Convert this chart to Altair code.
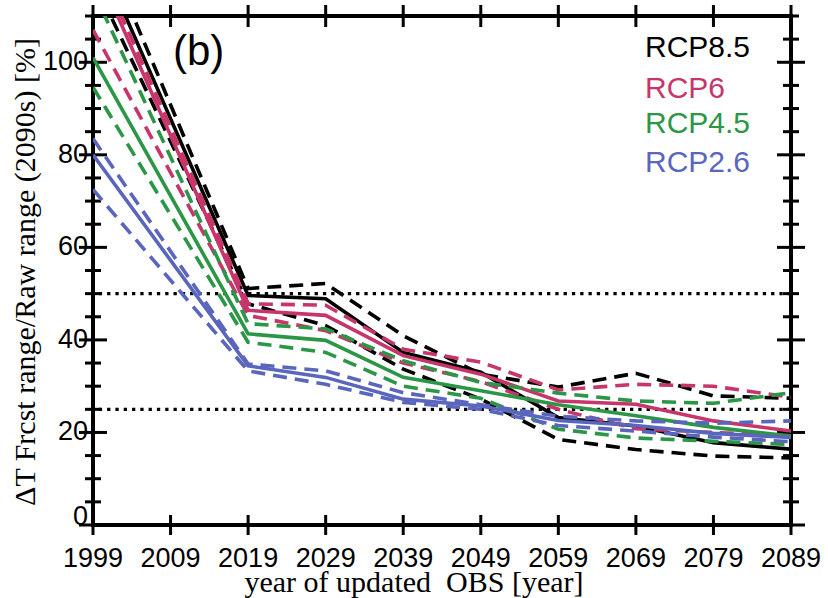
import altair as alt
import pandas as pd

years = [1999, 2019, 2029, 2039, 2049, 2059, 2069, 2079, 2089]

rcp85_mid = [126.0, 49.6, 48.9, 37.3, 33.0, 23.2, 21.4, 17.8, 16.4]
rcp85_lo = [118.0, 47.8, 43.1, 33.7, 27.2, 18.5, 16.3, 14.9, 14.5]
rcp85_hi = [130.5, 51.1, 52.2, 40.9, 32.6, 29.8, 32.8, 27.9, 27.4]

rcp6_mid = [122.0, 46.4, 45.3, 36.6, 32.6, 26.8, 26.1, 22.5, 20.3]
rcp6_lo = [107.0, 45.3, 42.0, 35.0, 31.0, 25.0, 20.8, 20.0, 19.3]
rcp6_hi = [124.0, 47.8, 47.5, 38.0, 35.2, 29.2, 30.4, 30.0, 27.6]

rcp45_mid = [101.0, 41.3, 39.9, 31.9, 29.0, 26.0, 23.6, 21.1, 19.2]
rcp45_lo = [94.6, 39.5, 37.3, 30.0, 27.4, 20.7, 18.8, 18.1, 17.4]
rcp45_hi = [115.5, 43.5, 42.4, 35.5, 30.8, 28.5, 26.8, 26.3, 28.6]

rcp26_mid = [80.0, 34.4, 31.9, 27.2, 25.7, 22.6, 21.5, 19.8, 18.9]
rcp26_lo = [72.5, 33.3, 30.4, 26.5, 25.0, 21.5, 20.3, 19.0, 18.0]
rcp26_hi = [83.5, 34.8, 33.3, 28.6, 26.0, 23.5, 22.5, 22.0, 22.5]

scenarios = ["RCP8.5", "RCP6", "RCP4.5", "RCP2.6"]
colors = ["#000000", "#c7356a", "#2b9646", "#5a66bd"]
series_values = {
    "RCP8.5": (rcp85_mid, rcp85_lo, rcp85_hi),
    "RCP6": (rcp6_mid, rcp6_lo, rcp6_hi),
    "RCP4.5": (rcp45_mid, rcp45_lo, rcp45_hi),
    "RCP2.6": (rcp26_mid, rcp26_lo, rcp26_hi),
}
ref_levels = [50, 25]
x_ticks = list(range(1999, 2090, 10))
y_major = [0, 20, 40, 60, 80, 100]
y_minor = [v for v in range(0, 111, 5) if v not in (0, 20, 40, 60, 80, 100)]
x_title = "year of updated\u00a0 OBS [year]"
y_title = "ΔT Frcst range/Raw range (2090s) [%]"

rows = []
for s in scenarios:
    for kind, vals in zip(["mid", "lo", "hi"], series_values[s]):
        for yr, v in zip(years, vals):
            rows.append({"year": yr, "value": v, "scenario": s, "kind": kind})
df = pd.DataFrame(rows)

xscale = alt.Scale(domain=[1999, 2089], nice=False, zero=False)
yscale = alt.Scale(domain=[0, 110], nice=False, zero=True)

W, H = 698, 509

def X(field):
    return alt.X(field, scale=xscale, axis=None)

def Y(field):
    return alt.Y(field, scale=yscale, axis=None)

layers = []

# reference dotted levels
ref_df = pd.DataFrame({"ref": ref_levels})
layers.append(alt.Chart(ref_df).mark_rule(color="black", strokeWidth=3.3, strokeDash=[3.3, 5]).encode(
    y=Y("ref:Q")))

# inward tick marks on all four sides
xt = pd.DataFrame({"tx": x_ticks})
ymaj = pd.DataFrame({"ty": y_major})
ymin = pd.DataFrame({"ty": y_minor})
layers.append(alt.Chart(xt).mark_tick(color="black", orient="vertical", size=20, thickness=3, opacity=1).encode(
    x=X("tx:Q"), y=alt.value(H)))
layers.append(alt.Chart(xt).mark_tick(color="black", orient="vertical", size=22, thickness=3, opacity=1).encode(
    x=X("tx:Q"), y=alt.value(0)))
for xv in (0, W):
    layers.append(alt.Chart(ymaj).mark_tick(color="black", orient="horizontal", size=28, thickness=3, opacity=1).encode(
        y=Y("ty:Q"), x=alt.value(xv)))
    layers.append(alt.Chart(ymin).mark_tick(color="black", orient="horizontal", size=16, thickness=3, opacity=1).encode(
        y=Y("ty:Q"), x=alt.value(xv)))

for s, c in zip(scenarios, colors):
    for kind in ["lo", "hi", "mid"]:
        sub = df[(df.scenario == s) & (df.kind == kind)]
        if kind == "mid":
            mk = alt.Chart(sub).mark_line(clip=True, color=c, strokeWidth=3.6)
        else:
            mk = alt.Chart(sub).mark_line(clip=True, color=c, strokeWidth=3.6, strokeDash=[14, 8])
        layers.append(mk.encode(x=X("year:Q"), y=Y("value:Q")))

# tick labels
xlab = pd.DataFrame({"xv": x_ticks, "lab": [str(v) for v in x_ticks]})
ylab = pd.DataFrame({"yv": y_major, "lab": [str(v) for v in y_major]})
lab = dict(font="Liberation Sans", fontSize=27, color="black")
layers.append(alt.Chart(xlab).mark_text(align="center", baseline="alphabetic", **lab).encode(
    x=X("xv:Q"), y=alt.value(H + 42), text="lab:N"))
layers.append(alt.Chart(ylab[ylab.yv > 0]).mark_text(align="right", baseline="middle", **lab).encode(
    y=Y("yv:Q"), x=alt.value(-5), text="lab:N"))
layers.append(alt.Chart(ylab[ylab.yv == 0]).mark_text(align="right", baseline="alphabetic", **lab).encode(
    y=Y("yv:Q"), x=alt.value(-5), text="lab:N"))

# axis titles
ttl = dict(font="Liberation Serif", fontSize=30, color="black", baseline="alphabetic", align="center")
layers.append(alt.Chart(pd.DataFrame({"t": [x_title]})).mark_text(**ttl).encode(
    x=alt.value(321), y=alt.value(H + 67), text="t:N"))
layers.append(alt.Chart(pd.DataFrame({"t": [y_title]})).mark_text(angle=270, **ttl).encode(
    x=alt.value(-58), y=alt.value(256), text="t:N"))

legend_pos = [41, 82, 117, 156]
for s, c, yp in zip(scenarios, colors, legend_pos):
    layers.append(alt.Chart(pd.DataFrame({"t": [s]})).mark_text(
        align="left", baseline="alphabetic", font="Liberation Sans", fontSize=30, color=c
    ).encode(x=alt.value(552), y=alt.value(yp), text="t:N"))

layers.append(alt.Chart(pd.DataFrame({"t": ["(b)"]})).mark_text(
    align="left", baseline="alphabetic", font="Liberation Sans", fontSize=42, color="black"
).encode(x=alt.value(80), y=alt.value(49), text="t:N"))

chart = alt.layer(*layers).properties(
    width=W, height=H, autosize="none",
    padding={"left": 93, "top": 16, "right": 828 - 93 - W, "bottom": 598 - 16 - H},
    background="white",
).configure_view(stroke="black", strokeWidth=4)

chart.save("out.html", embed_options={"renderer": "svg", "actions": False})
